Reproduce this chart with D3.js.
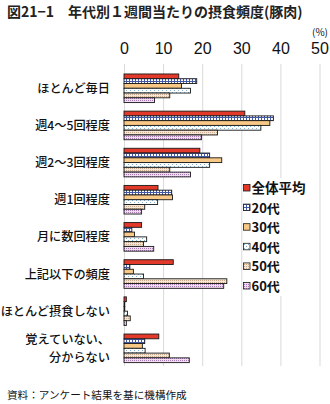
<!DOCTYPE html>
<html><head><meta charset="utf-8">
<script src="https://cdn.jsdelivr.net/npm/d3@7"></script>
<style>
html,body{margin:0;padding:0;background:#fff;}
svg{display:block;font-family:"Noto Sans CJK JP","Noto Sans",sans-serif;}
</style></head>
<body><svg id="c" width="330" height="404"></svg>
<script>
const categories = ["ほとんど毎日","週4～5回程度","週2～3回程度","週1回程度","月に数回程度","上記以下の頻度","ほとんど摂食しない","覚えていない、\n分からない"];
const series = ["全体平均","20代","30代","40代","50代","60代"];
const v全体平均 = [14.0,30.9,19.4,8.7,4.5,12.6,0.6,8.9];
const v20代 = [18.6,38.2,21.9,12.2,2.0,1.5,0.2,5.3];
const v30代 = [14.7,37.3,25.0,12.4,2.7,2.4,0.2,4.7];
const v40代 = [17.0,35.0,21.9,8.6,5.8,5.0,0.9,5.4];
const v50代 = [11.7,23.9,11.7,5.3,5.0,26.3,1.6,11.6];
const v60代 = [7.8,19.8,17.0,4.5,7.6,25.5,0.6,16.7];
const ticks = [0,10,20,30,40,50];
const values = [v全体平均,v20代,v30代,v40代,v50代,v60代];

const svg = d3.select("#c");
const defs = svg.append("defs");
function pat(id,w,h,bg,cells){
  const p = defs.append("pattern").attr("id",id).attr("width",w).attr("height",h).attr("patternUnits","userSpaceOnUse");
  p.append("rect").attr("width",w).attr("height",h).attr("fill",bg);
  cells.forEach(c=>p.append("rect").attr("x",c[0]).attr("y",c[1]).attr("width",c[2]).attr("height",c[3]).attr("fill",c[4]));
}
pat("p20",3,3,"#ffffff",[[0,0,3,1,"#4458a8"],[0,0,1,3,"#4458a8"]]);
pat("p40",4,4,"#ffffff",[[0,0,1,1,"#7fb3cf"],[2,2,1,1,"#7fb3cf"]]);
pat("p50",2,2,"#f3e6d6",[[0,0,1,1,"#c9aa8c"]]);
pat("p60",2,2,"#f2dcf0",[[0,0,1,1,"#a57ab5"]]);
const fills = ["#e2392b","url(#p20)","#f8c886","url(#p40)","url(#p50)","url(#p60)"];

const x = d3.scaleLinear().domain([0,50]).range([124,319.5]);
const y = d3.scaleBand().domain(categories).range([69.7,366.9]).paddingInner(0.23).paddingOuter(0.115);
const ys = d3.scaleBand().domain(series).range([0,y.bandwidth()]);

// title
svg.append("text").attr("x",7).attr("y",17).attr("font-size",14).attr("font-weight","bold").attr("fill","#222")
  .text("図21−1　年代別１週間当たりの摂食頻度(豚肉)");

// axis with gridlines
const ax = svg.append("g").attr("transform","translate(0,64)")
  .call(d3.axisTop(x).tickValues(ticks).tickSize(-302).tickPadding(10.5).tickFormat(d3.format("d")));
ax.select(".domain").remove();
ax.selectAll(".tick line").attr("stroke","#d9d9d9");
ax.selectAll(".tick text").attr("font-size",16).attr("fill","#111").attr("font-family","Liberation Sans, Arial, sans-serif");
svg.append("text").attr("x",328).attr("y",36).attr("text-anchor","end").attr("font-size",10).attr("fill","#111").text("(%)");

// bars
const g = svg.append("g");
series.forEach((s,si)=>{
  g.selectAll(".b"+si).data(categories.map((c,ci)=>({c,v:values[si][ci]}))).enter().append("rect")
    .attr("x",x(0)).attr("y",d=>y(d.c)+ys(s)).attr("width",d=>x(d.v)-x(0)).attr("height",ys.bandwidth())
    .attr("fill",fills[si]).attr("stroke","#1a1a1a").attr("stroke-width",0.9);
});

// category labels
categories.forEach(c=>{
  const lines = c.split("\n");
  const cy = y(c)+y.bandwidth()/2;
  const t = svg.append("text").attr("text-anchor","end").attr("font-size",12.2).attr("font-weight","500").attr("fill","#111");
  lines.forEach((l,i)=>{
    t.append("tspan").attr("x",110).attr("y",cy + 4.5 + (i-(lines.length-1)/2)*17.5).text(l);
  });
});

// legend
const lg = svg.append("g");
lg.append("rect").attr("x",243).attr("y",178).attr("width",73).attr("height",118).attr("fill","#fff");
series.forEach((s,i)=>{
  const yy = 188 + i*19.6;
  lg.append("rect").attr("x",243.5).attr("y",yy-3.5).attr("width",6.5).attr("height",6.5).attr("fill",fills[i]).attr("stroke","#1a1a1a").attr("stroke-width",0.8);
  lg.append("text").attr("x",251.5).attr("y",yy+5).attr("font-size",i===0?13.5:13).attr("font-weight","bold").attr("fill","#111").text(s);
});

// source
svg.append("text").attr("x",7).attr("y",399).attr("font-size",10.6).attr("fill","#111").text("資料：アンケート結果を基に機構作成");
</script></body></html>
